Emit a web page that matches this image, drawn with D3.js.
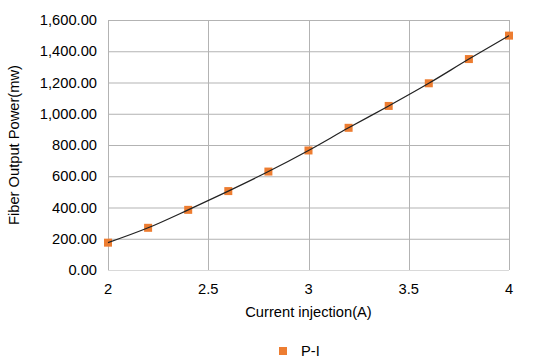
<!DOCTYPE html>
<html>
<head>
<meta charset="utf-8">
<script src="https://cdn.jsdelivr.net/npm/d3@7"></script>
<style>
  body { margin: 0; background: #fff; }
  text { font-family: "Liberation Sans", Arial, sans-serif; }
</style>
</head>
<body>
<svg width="545" height="361"></svg>
<script>
// data
var current = [2.0, 2.2, 2.4, 2.6, 2.8, 3.0, 3.2, 3.4, 3.6, 3.8, 4.0];
var power   = [175, 270, 385, 505, 630, 765, 910, 1050, 1195, 1350, 1500];
var xTicks  = [2, 2.5, 3, 3.5, 4];
var yTicks  = [0, 200, 400, 600, 800, 1000, 1200, 1400, 1600];
var seriesName = "P-I";

var svg = d3.select("svg");

var orange = "#ed7d31",
    grid_c = "#b3b3b3",
    fsize  = "14.7px";

const pLeft = 108, pRight = 509, pTop = 20, pBottom = 270;

var x = d3.scaleLinear().domain([2, 4]).range([pLeft, pRight]);
var y = d3.scaleLinear().domain([0, 1600]).range([pBottom, pTop]);

var fmt = d3.format(",.2f");

// horizontal grid
svg.append("g").selectAll("line")
  .data(yTicks)
  .enter().append("line")
    .attr("x1", pLeft).attr("x2", pRight)
    .attr("y1", d => y(d) + 0.5).attr("y2", d => y(d) + 0.5)
    .style("stroke", d => d === 0 ? "#d9d9d9" : grid_c)
    .style("stroke-width", 1);

// vertical grid
svg.append("g").selectAll("line")
  .data(xTicks)
  .enter().append("line")
    .attr("x1", d => Math.round(x(d)) + 0.5).attr("x2", d => Math.round(x(d)) + 0.5)
    .attr("y1", pTop).attr("y2", pBottom)
    .style("stroke", grid_c)
    .style("stroke-width", 1);

// y tick labels
svg.append("g").selectAll("text")
  .data(yTicks)
  .enter().append("text")
    .attr("x", 97)
    .attr("y", d => y(d) + 5)
    .attr("text-anchor", "end")
    .attr("font-size", fsize)
    .attr("fill", "#000")
    .text(d => fmt(d));

// x tick labels
svg.append("g").selectAll("text")
  .data(xTicks)
  .enter().append("text")
    .attr("x", d => x(d))
    .attr("y", 294)
    .attr("text-anchor", "middle")
    .attr("font-size", fsize)
    .attr("fill", "#000")
    .text(d => d);

// axis titles
svg.append("text")
  .attr("x", (pLeft + pRight) / 2)
  .attr("y", 317)
  .attr("text-anchor", "middle")
  .attr("font-size", fsize)
  .text("Current injection(A)");

svg.append("text")
  .attr("transform", "translate(19," + ((pTop + pBottom) / 2) + ") rotate(-90)")
  .attr("text-anchor", "middle")
  .attr("font-size", fsize)
  .text("Fiber Output Power(mw)");

var pts = current.map((c, i) => [c, power[i]]);

// trend line
var line = d3.line()
  .x(d => x(d[0]))
  .y(d => y(d[1]))
  .curve(d3.curveMonotoneX);

// markers
svg.append("g").selectAll("rect")
  .data(pts)
  .enter().append("rect")
    .attr("x", d => x(d[0]) - 4)
    .attr("y", d => y(d[1]) - 4)
    .attr("width", 8)
    .attr("height", 8)
    .style("fill", orange);

svg.append("path")
  .attr("d", line(pts))
  .style("fill", "none")
  .style("stroke", "#222")
  .style("stroke-width", 1.2);

// legend
svg.append("rect")
  .attr("x", 279).attr("y", 347)
  .attr("width", 8).attr("height", 8)
  .style("fill", orange);
svg.append("text")
  .attr("x", 301)
  .attr("y", 356)
  .attr("font-size", fsize)
  .text(seriesName);
</script>
</body>
</html>
